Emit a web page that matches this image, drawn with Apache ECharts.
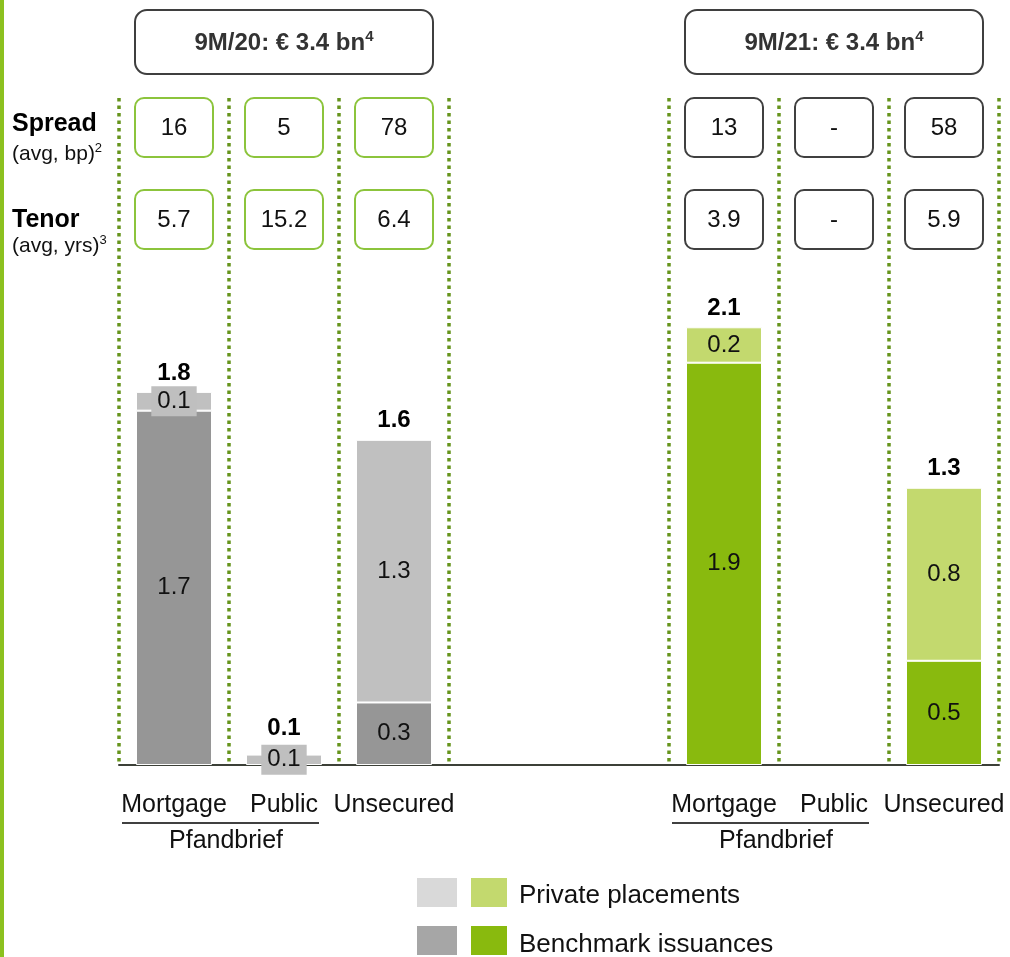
<!DOCTYPE html>
<html>
<head>
<meta charset="utf-8">
<title>Funding volume 9M/20 vs 9M/21</title>
<script src="https://cdn.jsdelivr.net/npm/echarts@6/dist/echarts.min.js"></script>
<style>
    html, body { margin: 0; padding: 0; background: #fff; }
    #chart { width: 1010px; height: 957px; }
</style>
</head>
<body>
<div id="chart"></div>
<script>
    // slots 3 and 4 are empty spacer columns between the two periods
    const categories = ['Mortgage', 'Public', 'Unsecured', '', '', 'Mortgage', 'Public', 'Unsecured']
    const periodOf = [0, 0, 0, -1, -1, 1, 1, 1]
    // volumes in € bn
    const benchmark = [1.7, null, 0.3, null, null, 1.93, null, 0.5]
    const privatePlacements = [0.09, 0.05, 1.26, null, null, 0.17, null, 0.83]
    // avg spread (bp) and avg tenor (yrs)
    const spread = ['16', '5', '78', null, null, '13', '-', '58']
    const tenor = ['5.7', '15.2', '6.4', null, null, '3.9', '-', '5.9']
    const periodTitles = ['9M/20: € 3.4 bn', '9M/21: € 3.4 bn']
    const periodSlots = [1, 6]

    const FONT = '"Liberation Sans", Arial, sans-serif'
    const benchColors = ['#969696', '#89BA0E']
    const privColors = ['#C0C0C0', '#C3D96E']
    const boxColors = ['#8CC43C', '#404040']
    const dotColor = '#66941C'

    const fmt = v => (Math.round(v * 10) / 10).toFixed(1)

    const chart = echarts.init(document.getElementById('chart'))

    //把每个数值做成带颜色的数据项
    const barData = (values, colors) => values.map((v, i) => {
        if (v == null) return '-'
        const item = {value: v, itemStyle: {color: colors[periodOf[i]]}}
        // tiny segments get a grey box behind their label
        if (v < 0.12) item.label = {backgroundColor: '#BFBFBF', padding: [4, 6, 2, 6]}
        return item
    })

    const totalsData = []
    categories.forEach((c, i) => {
        if (benchmark[i] == null && privatePlacements[i] == null) return
        totalsData.push([i, (benchmark[i] || 0) + (privatePlacements[i] || 0)])
    })
    const metricData = []
    categories.forEach((c, i) => { if (spread[i] != null) metricData.push([i, 0]) })

    const option = {
        animation: false,
        grid: {left: 119, right: 11, top: 98, bottom: 192, containLabel: false, outerBoundsMode: 'none'},
        xAxis: {
            type: 'category',
            data: categories,
            axisTick: {show: false},
            axisLine: {lineStyle: {color: '#3C4038', width: 2}},
            axisLabel: {fontSize: 25, color: '#111', fontFamily: FONT, margin: 28, interval: 0}
        },
        yAxis: {type: 'value', min: 0, max: 3.2, show: false},
        series: [
            {
                name: 'Benchmark issuances',
                type: 'bar',
                stack: 'volume',
                barWidth: 76,
                data: barData(benchmark, benchColors),
                itemStyle: {borderColor: '#fff', borderWidth: 1},
                label: {show: true, position: 'inside', fontSize: 24, color: '#111', fontFamily: FONT, formatter: p => fmt(p.value)}
            },
            {
                name: 'Private placements',
                type: 'bar',
                stack: 'volume',
                barWidth: 76,
                data: barData(privatePlacements, privColors),
                itemStyle: {borderColor: '#fff', borderWidth: 1},
                label: {show: true, position: 'inside', fontSize: 24, color: '#111', fontFamily: FONT, formatter: p => fmt(p.value)}
            },
            {
                // dotted column dividers
                type: 'custom',
                silent: true,
                clip: false,
                z: 1,
                data: metricData,
                renderItem(params, api) {
                    const i = api.value(0)
                    const cx = api.coord([i, 0])[0]
                    const base = api.coord([i, 0])[1]
                    const top = api.coord([i, 3.2])[1]
                    const half = api.size([1, 0])[0] / 2
                    const xs = [cx - half]
                    if (periodOf[i + 1] !== periodOf[i]) xs.push(cx + half)
                    return {
                        type: 'group',
                        children: xs.map(x => ({
                            type: 'line',
                            shape: {x1: x, y1: top, x2: x, y2: base - 2},
                            style: {stroke: dotColor, lineWidth: 3.5, lineDash: [3.5, 4]}
                        }))
                    }
                }
            },
            {
                // spread / tenor boxes
                type: 'custom',
                silent: true,
                clip: false,
                z: 3,
                data: metricData,
                renderItem(params, api) {
                    const i = api.value(0)
                    const cx = api.coord([i, 0])[0]
                    const stroke = boxColors[periodOf[i]]
                    const box = (y, txt) => [
                        {type: 'rect', shape: {x: cx - 39, y: y, width: 78, height: 59, r: 9},
                            style: {fill: '#fff', stroke: stroke, lineWidth: 2}},
                        {type: 'text', x: cx, y: y + 30,
                            style: {text: txt, fontSize: 24, fontFamily: FONT, fill: '#111', align: 'center', verticalAlign: 'middle'}}
                    ]
                    return {type: 'group', children: box(98, spread[i]).concat(box(190, tenor[i]))}
                }
            },
            {
                // totals above each bar
                type: 'custom',
                silent: true,
                clip: false,
                z: 4,
                data: totalsData,
                renderItem(params, api) {
                    const i = api.value(0)
                    const t = api.value(1)
                    const pt = api.coord([i, t])
                    const lift = t < 0.12 ? 26 : 19
                    return {
                        type: 'text', x: pt[0], y: pt[1] - lift,
                        style: {text: fmt(t), fontSize: 24, fontWeight: 'bold', fontFamily: FONT, fill: '#000', align: 'center', verticalAlign: 'middle'}
                    }
                }
            },
            {
                // period header + Pfandbrief bracket
                type: 'custom',
                silent: true,
                clip: false,
                z: 4,
                data: periodSlots.map(s => [s, 0]),
                renderItem(params, api) {
                    const s = api.value(0)
                    const cx = api.coord([s, 0])[0]
                    const mx = api.coord([s - 1, 0])[0]
                    return {
                        type: 'group',
                        children: [
                            {type: 'rect', shape: {x: cx - 149, y: 10, width: 298, height: 64, r: 12},
                                style: {fill: '#fff', stroke: '#3F3F3F', lineWidth: 2}},
                            {type: 'text', x: cx, y: 43,
                                style: {
                                    text: '{b|' + periodTitles[params.dataIndex] + '}{s|4}',
                                    align: 'center', verticalAlign: 'middle',
                                    rich: {
                                        b: {fontSize: 24, fontWeight: 'bold', fontFamily: FONT, fill: '#333', lineHeight: 28},
                                        s: {fontSize: 15, fontWeight: 'bold', fontFamily: FONT, fill: '#333', verticalAlign: 'top', lineHeight: 28}
                                    }
                                }},
                            {type: 'line', shape: {x1: mx - 52, y1: 823, x2: cx + 35, y2: 823},
                                style: {stroke: '#404040', lineWidth: 2}},
                            {type: 'text', x: mx + 52, y: 841,
                                style: {text: 'Pfandbrief', fontSize: 25, fontFamily: FONT, fill: '#111', align: 'center', verticalAlign: 'middle'}}
                        ]
                    }
                }
            }
        ],
        graphic: [
            {type: 'rect', shape: {x: 0, y: 0, width: 4, height: 957}, style: {fill: '#8CC11F'}},
            {type: 'text', x: 12, y: 124, style: {text: 'Spread', fontSize: 25, fontWeight: 'bold', fontFamily: FONT, fill: '#000', verticalAlign: 'middle'}},
            {type: 'text', x: 12, y: 154, style: {
                text: '{a|(avg, bp)}{s|2}', verticalAlign: 'middle',
                rich: {a: {fontSize: 21, fontFamily: FONT, fill: '#111', lineHeight: 24}, s: {fontSize: 13, fontFamily: FONT, fill: '#111', verticalAlign: 'top', lineHeight: 24}}
            }},
            {type: 'text', x: 12, y: 220, style: {text: 'Tenor', fontSize: 25, fontWeight: 'bold', fontFamily: FONT, fill: '#000', verticalAlign: 'middle'}},
            {type: 'text', x: 12, y: 246, style: {
                text: '{a|(avg, yrs)}{s|3}', verticalAlign: 'middle',
                rich: {a: {fontSize: 21, fontFamily: FONT, fill: '#111', lineHeight: 24}, s: {fontSize: 13, fontFamily: FONT, fill: '#111', verticalAlign: 'top', lineHeight: 24}}
            }},
            // legend
            {type: 'rect', shape: {x: 417, y: 878, width: 40, height: 29}, style: {fill: '#D9D9D9'}},
            {type: 'rect', shape: {x: 471, y: 878, width: 36, height: 29}, style: {fill: '#C3D96E'}},
            {type: 'text', x: 519, y: 896, style: {text: 'Private placements', fontSize: 26, fontFamily: FONT, fill: '#111', verticalAlign: 'middle'}},
            {type: 'rect', shape: {x: 417, y: 926, width: 40, height: 29}, style: {fill: '#A6A6A6'}},
            {type: 'rect', shape: {x: 471, y: 926, width: 36, height: 29}, style: {fill: '#89BA0E'}},
            {type: 'text', x: 519, y: 945, style: {text: 'Benchmark issuances', fontSize: 26, fontFamily: FONT, fill: '#111', verticalAlign: 'middle'}}
        ]
    }
    chart.setOption(option)
</script>
</body>
</html>
